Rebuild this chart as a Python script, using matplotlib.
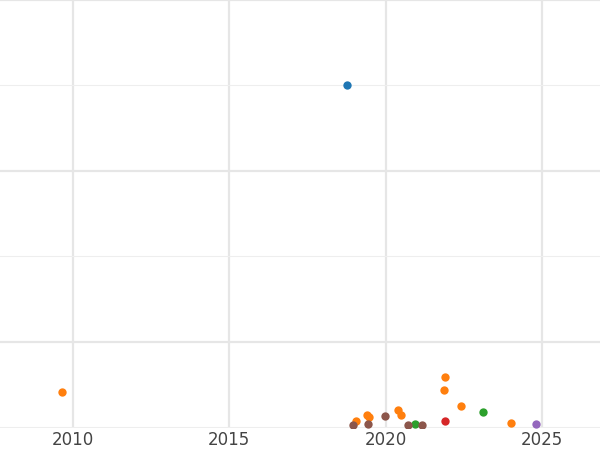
import matplotlib.pyplot as plt
from matplotlib.ticker import MultipleLocator

# year, value, colour group
blue_x = [2018.75]
blue_y = [5.006]
orange_x = [2009.65, 2021.9, 2021.85, 2022.4, 2020.4, 2020.5, 2019.4, 2019.47, 2019.05, 2024.0]
orange_y = [1.415, 1.59, 1.44, 1.25, 1.20, 1.145, 1.145, 1.12, 1.076, 1.053]
green_x = [2023.1, 2020.95]
green_y = [1.18, 1.04]
red_x = [2021.9]
red_y = [1.076]
purple_x = [2024.8]
purple_y = [1.04]
brown_x = [2019.97, 2018.95, 2019.43, 2020.7, 2021.15]
brown_y = [1.13, 1.03, 1.04, 1.02, 1.02]

fig = plt.figure(figsize=(6, 4.5), dpi=100)
ax = fig.add_axes([0, 0.049, 1, 0.951])

series = [
    (blue_x, blue_y, '#1f77b4'),
    (orange_x, orange_y, '#ff7f0e'),
    (green_x, green_y, '#2ca02c'),
    (red_x, red_y, '#d62728'),
    (purple_x, purple_y, '#9467bd'),
    (brown_x, brown_y, '#8c564b'),
]
for xs, ys, c in series:
    ax.scatter(xs, ys, s=36, color=c, zorder=3, linewidths=0)

ax.set_xlim(2007.67, 2026.85)
ax.set_ylim(0.99, 6.0)
ax.xaxis.set_major_locator(MultipleLocator(5))
ax.yaxis.set_major_locator(MultipleLocator(2))
ax.yaxis.set_minor_locator(MultipleLocator(1))
ax.grid(True, which='major', color='#e6e6e6', linewidth=1.6)
ax.grid(True, which='minor', axis='y', color='#eeeeee', linewidth=0.8)
ax.set_axisbelow(True)
for s in ax.spines.values():
    s.set_visible(False)
ax.tick_params(axis='y', left=False, labelleft=False, which='both')
ax.tick_params(axis='x', length=0, labelsize=12, labelcolor='#444444', pad=2)

fig.savefig('out.png', dpi=100)
